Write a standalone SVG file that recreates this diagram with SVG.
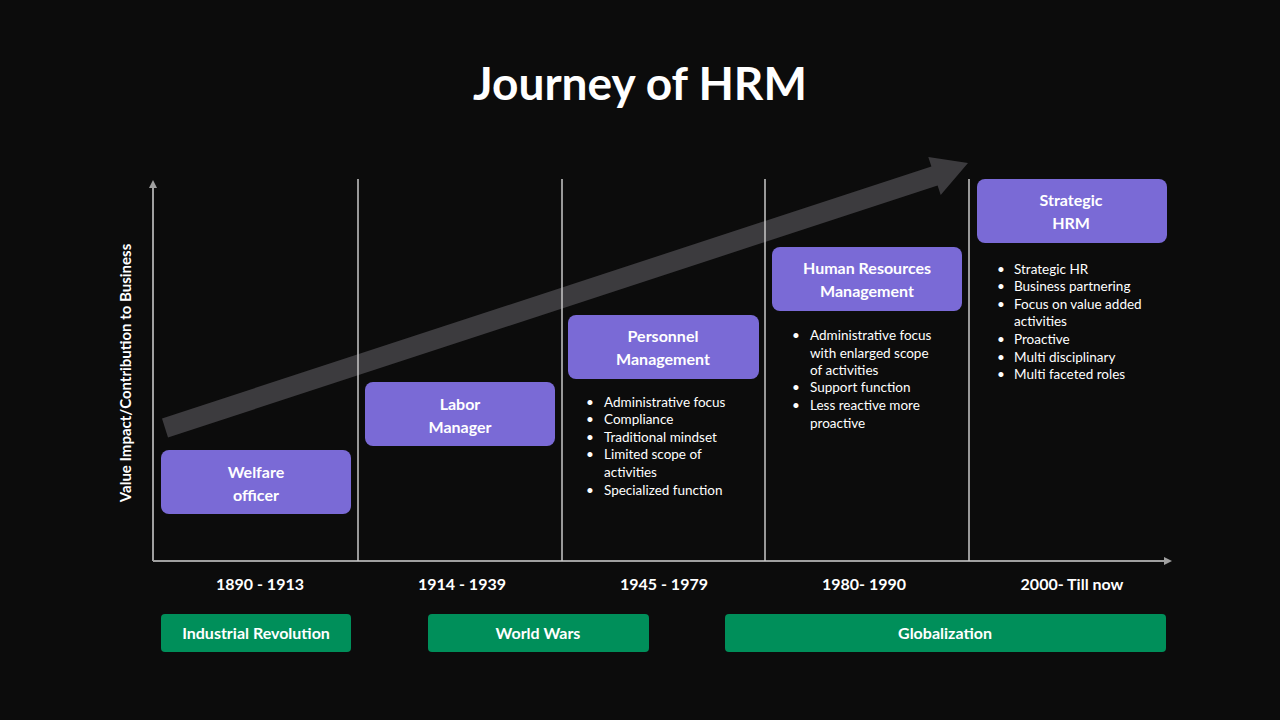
<svg xmlns="http://www.w3.org/2000/svg" width="1280" height="720" viewBox="0 0 1280 720">
<defs>
<style>
text{font-family:Lato,"Open Sans","Liberation Sans",sans-serif;fill:#fff}
.box{fill:#7a6ad6}
.era{fill:#008f5a}
.bt{font-size:16px;font-weight:bold;text-anchor:middle}
.yr{font-size:16px;font-weight:bold;text-anchor:middle}
.li{font-size:13.5px;fill:#e6e6e6}
.div{stroke:#c8c8c8;stroke-width:1.5}
.ax{stroke:#a0a0a0;stroke-width:2}
</style>
<marker id="ah" markerWidth="8" markerHeight="8" refX="4" refY="4" orient="auto" markerUnits="userSpaceOnUse"><path d="M0,0 L8,4 L0,8z" fill="#a0a0a0"/></marker>
</defs>
<rect width="1280" height="720" fill="#0c0c0c"/>
<text x="640" y="100" font-size="46" font-weight="bold" text-anchor="middle">Journey of HRM</text>
<g id="trend"><polygon points="168,437.5 937.6,185.5 940.7,195 968,163 928.3,157 931.4,166.5 162,418.5" fill="#3c3b3e"/></g>
<g id="connectors">
<line class="ax" x1="153" y1="561" x2="153" y2="184" marker-end="url(#ah)"/>
<line class="ax" x1="153" y1="561" x2="1168" y2="561" marker-end="url(#ah)"/>
<line class="div" x1="358" y1="179" x2="358" y2="561"/>
<line class="div" x1="562" y1="179" x2="562" y2="561"/>
<line class="div" x1="765" y1="179" x2="765" y2="561"/>
<line class="div" x1="969" y1="179" x2="969" y2="561"/>
</g>
<text transform="translate(131,373) rotate(-90)" font-size="15" font-weight="bold" text-anchor="middle">Value Impact/Contribution to Business</text>
<g id="welfare"><rect class="box" x="161" y="450" width="190" height="64" rx="8"/><text class="bt" x="256" y="478">Welfare</text><text class="bt" x="256" y="501">officer</text></g>
<g id="labor"><rect class="box" x="365" y="382" width="190" height="64" rx="8"/><text class="bt" x="460" y="410">Labor</text><text class="bt" x="460" y="433">Manager</text></g>
<g id="personnel"><rect class="box" x="568" y="315" width="191" height="64" rx="8"/><text class="bt" x="663" y="342">Personnel</text><text class="bt" x="663" y="365">Management</text>
<g class="li"><text x="586" y="407">•</text><text x="604" y="407">Administrative focus</text><text x="586" y="424">•</text><text x="604" y="424">Compliance</text><text x="586" y="442">•</text><text x="604" y="442">Traditional mindset</text><text x="586" y="459">•</text><text x="604" y="459">Limited scope of</text><text x="604" y="477">activities</text><text x="586" y="495">•</text><text x="604" y="495">Specialized function</text></g></g>
<g id="hrm"><rect class="box" x="772" y="247" width="190" height="64" rx="8"/><text class="bt" x="867" y="274">Human Resources</text><text class="bt" x="867" y="297">Management</text>
<g class="li"><text x="792" y="340">•</text><text x="810" y="340">Administrative focus</text><text x="810" y="358">with enlarged scope</text><text x="810" y="375">of activities</text><text x="792" y="392">•</text><text x="810" y="392">Support function</text><text x="792" y="410">•</text><text x="810" y="410">Less reactive more</text><text x="810" y="428">proactive</text></g></g>
<g id="strategic"><rect class="box" x="977" y="179" width="190" height="64" rx="8"/><text class="bt" x="1071" y="206">Strategic</text><text class="bt" x="1071" y="229">HRM</text>
<g class="li"><text x="997" y="274">•</text><text x="1014" y="274">Strategic HR</text><text x="997" y="291">•</text><text x="1014" y="291">Business partnering</text><text x="997" y="309">•</text><text x="1014" y="309">Focus on value added</text><text x="1014" y="326">activities</text><text x="997" y="344">•</text><text x="1014" y="344">Proactive</text><text x="997" y="362">•</text><text x="1014" y="362">Multi disciplinary</text><text x="997" y="379">•</text><text x="1014" y="379">Multi faceted roles</text></g></g>
<g id="years"><text class="yr" x="260" y="590">1890 - 1913</text><text class="yr" x="462" y="590">1914 - 1939</text><text class="yr" x="664" y="590">1945 - 1979</text><text class="yr" x="864" y="590">1980- 1990</text><text class="yr" x="1072" y="590">2000- Till now</text></g>
<g id="eras">
<rect class="era" x="161" y="614" width="190" height="38" rx="4"/><text class="yr" x="256" y="639">Industrial Revolution</text>
<rect class="era" x="428" y="614" width="221" height="38" rx="4"/><text class="yr" x="538" y="639">World Wars</text>
<rect class="era" x="725" y="614" width="441" height="38" rx="4"/><text class="yr" x="945" y="639">Globalization</text>
</g>
</svg>
